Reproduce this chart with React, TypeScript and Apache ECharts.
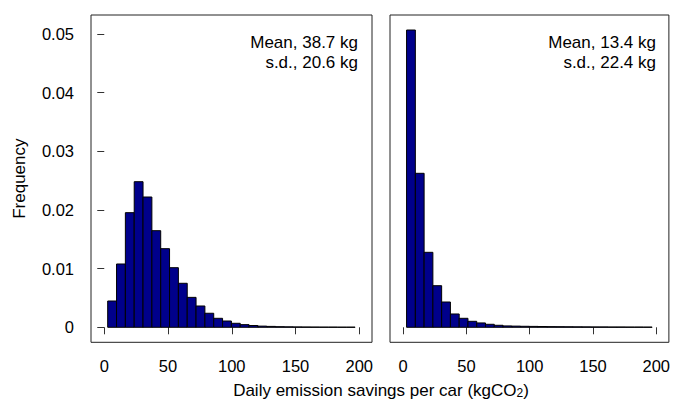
import React, { useEffect, useRef } from "react";
import * as echarts from "echarts";

// Histogram bins (kgCO2): start of the first bin and common bin width
const binStart = 2.7;
const binWidth = 6.93;

// Frequencies (density) per bin
const leftFreq = [
  0.00448, 0.01079, 0.01954, 0.02482, 0.02221, 0.01647, 0.0134, 0.01016,
  0.0075, 0.0051, 0.00363, 0.00239, 0.00153, 0.00107, 0.00068, 0.00045,
  0.0003, 0.0002, 0.00015, 0.0001, 0.00008, 0.00006, 0.00005, 0.00004,
  0.00003, 0.00003, 0.00002, 0.00002,
];
const rightFreq = [
  0.05068, 0.02625, 0.01278, 0.00709, 0.00431, 0.00227, 0.00153, 0.00102,
  0.00074, 0.00051, 0.00034, 0.00023, 0.0002, 0.00017, 0.00015, 0.00013,
  0.00011, 0.0001, 0.00009, 0.00008, 0.00007, 0.00006, 0.00006, 0.00005,
  0.00005, 0.00004, 0.00004, 0.00003,
];

const xTicks = [0, 50, 100, 150, 200];
const yTicks = [0, 0.01, 0.02, 0.03, 0.04, 0.05];
const leftStats = ["Mean, 38.7 kg", "s.d., 20.6 kg"];
const rightStats = ["Mean, 13.4 kg", "s.d., 22.4 kg"];
const yTitle = "Frequency";
const xTitleMain = "Daily emission savings per car (kgCO";
const xTitleSub = "2";

const FONT = "'Liberation Sans', Arial, Helvetica, sans-serif";
const FILL = "#00008B";

function toBins(freq: number[]) {
  return freq.map((f, i) => [binStart + i * binWidth, binStart + (i + 1) * binWidth, f]);
}

export default function App() {
  const ref = useRef<HTMLDivElement>(null);

  useEffect(() => {
    if (!ref.current) return;
    const chart = echarts.init(ref.current, undefined, { renderer: "svg" });

    const renderItem = (_params: any, api: any) => {
      const x0 = api.value(0);
      const x1 = api.value(1);
      const y = api.value(2);
      const p0 = api.coord([x0, y]);
      const p1 = api.coord([x1, 0]);
      return {
        type: "rect",
        shape: { x: p0[0], y: p0[1], width: p1[0] - p0[0], height: p1[1] - p0[1] },
        style: { fill: FILL, stroke: "#000", lineWidth: 1 },
      };
    };

    const xAxisBase = (gridIndex: number) => ({
      type: "value",
      gridIndex,
      min: -10.4,
      max: 210,
      axisLine: { show: false },
      axisTick: {
        show: true,
        length: 7,
        customValues: xTicks,
        lineStyle: { color: "#333", width: 1 },
      },
      axisLabel: {
        customValues: xTicks,
        margin: 15,
        fontSize: 16.5,
        color: "#000",
        fontFamily: FONT,
      },
      splitLine: { show: false },
    });

    const statText = (x: number, lines: string[]) =>
      lines.map((t, i) => ({
        type: "text",
        x,
        y: 42.5 + i * 20,
        style: {
          text: t,
          align: "right",
          verticalAlign: "middle",
          fontSize: 17,
          fontFamily: FONT,
          fill: "#000",
        },
      }));

    chart.setOption({
      animation: false,
      backgroundColor: "#fff",
      grid: [
        { left: 91, top: 15, width: 281, height: 327.3, show: true, borderColor: "#222", borderWidth: 1, backgroundColor: "transparent" },
        { left: 390, top: 15, width: 279, height: 327.3, show: true, borderColor: "#222", borderWidth: 1, backgroundColor: "transparent" },
      ],
      xAxis: [xAxisBase(0), xAxisBase(1)],
      yAxis: [
        {
          type: "value",
          gridIndex: 0,
          min: -0.00256,
          max: 0.05324,
          axisLine: { show: false },
          axisTick: { show: true, length: 7, customValues: yTicks, lineStyle: { color: "#333", width: 1 } },
          axisLabel: {
            customValues: yTicks,
            margin: 17,
            fontSize: 16.5,
            color: "#000",
            fontFamily: FONT,
            formatter: (v: number) => String(v),
          },
          splitLine: { show: false },
          name: yTitle,
          nameLocation: "middle",
          nameGap: 63,
          nameTextStyle: { fontSize: 17, color: "#000", fontFamily: FONT },
        },
        {
          type: "value",
          gridIndex: 1,
          min: -0.00256,
          max: 0.05324,
          axisLine: { show: false },
          axisTick: { show: false },
          axisLabel: { show: false },
          splitLine: { show: false },
        },
      ],
      series: [
        {
          type: "custom",
          xAxisIndex: 0,
          yAxisIndex: 0,
          renderItem,
          encode: { x: [0, 1], y: 2 },
          data: toBins(leftFreq),
        },
        {
          type: "custom",
          xAxisIndex: 1,
          yAxisIndex: 1,
          renderItem,
          encode: { x: [0, 1], y: 2 },
          data: toBins(rightFreq),
        },
      ],
      graphic: [
        ...statText(358, leftStats),
        ...statText(656, rightStats),
        {
          type: "text",
          x: 381,
          y: 390,
          style: {
            text: `{m|${xTitleMain}}{s|${xTitleSub}}{m|)}`,
            align: "center",
            verticalAlign: "middle",
            rich: {
              m: { fontSize: 17, fontFamily: FONT, fill: "#000", lineHeight: 18, verticalAlign: "bottom" },
              s: { fontSize: 12, fontFamily: FONT, fill: "#000", lineHeight: 8, verticalAlign: "bottom" },
            },
          },
        },
      ],
    });

    return () => chart.dispose();
  }, []);

  return (
    <div
      ref={ref}
      style={{ position: "fixed", left: 0, top: 0, width: 673, height: 402, background: "#fff" }}
    />
  );
}
